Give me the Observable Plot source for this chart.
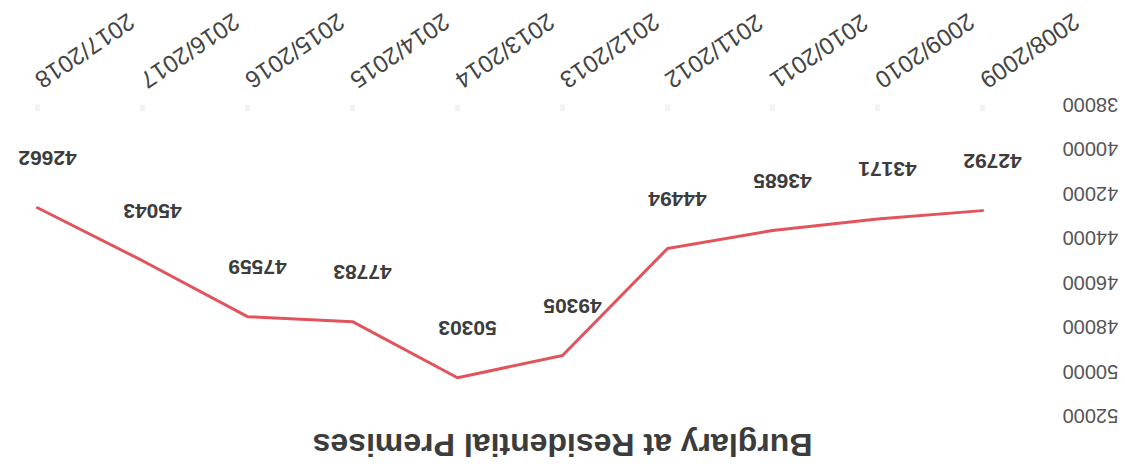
<!DOCTYPE html>
<html>
<head>
<meta charset="utf-8">
<script src="https://cdn.jsdelivr.net/npm/d3@7"></script>
<script src="https://cdn.jsdelivr.net/npm/@observablehq/plot@0.6"></script>
<style>
  html, body { margin: 0; padding: 0; background: #fff; }
  #chart {
    position: relative;
    width: 1125px;
    height: 468px;
    overflow: hidden;
    background: #fff;
    transform: rotate(180deg);
    transform-origin: 50% 50%;
  }
  #title {
    height: 48px;
    box-sizing: border-box;
    padding-top: 7px;
    width: 1125px;
    text-align: center;
    font: bold 32px "Liberation Sans", Arial, sans-serif;
    line-height: 1;
    color: #3c3c3c;
    white-space: nowrap;
  }
  #plot svg { display: block; overflow: visible; }
</style>
</head>
<body>
<div id="chart">
  <div id="title">Burglary at Residential Premises</div>
  <div id="plot"></div>
</div>
<script>
// Financial years, oldest first
const years = [
  "2008/2009", "2009/2010", "2010/2011", "2011/2012", "2012/2013",
  "2013/2014", "2014/2015", "2015/2016", "2016/2017", "2017/2018"
];
// Recorded burglaries at residential premises per year
const burglaries = [42792, 43171, 43685, 44494, 49305, 50303, 47783, 47559, 45043, 42662];
// Value-axis tick labels
const yTicks = [38000, 40000, 42000, 44000, 46000, 48000, 50000, 52000];

const rows = years.map((year, i) => ({year, value: burglaries[i]}));

const chart = Plot.plot({
  width: 1125,
  height: 420,
  marginLeft: 142,
  marginRight: 38,
  marginTop: 4,
  marginBottom: 104.5,
  style: {fontFamily: '"Liberation Sans", Arial, sans-serif', background: "#fff", overflow: "visible"},
  x: {type: "point", domain: years, padding: 0},
  y: {domain: [38000, 52000]},
  marks: [
    Plot.ruleX(rows, {x: "year", y1: 38000, y2: 38300, stroke: "#f3f3f3", strokeWidth: 5}),
    Plot.axisY({
      ticks: yTicks, tickSize: 0, tickPadding: 80, fontSize: 20,
      fill: "#555", tickFormat: d => String(d), label: null
    }),
    Plot.axisX({
      tickSize: 0, tickPadding: 22, tickRotate: -34, fontSize: 24,
      fill: "#444", label: null
    }),
    Plot.lineY(rows, {x: "year", y: "value", stroke: "#e2545c", strokeWidth: 3}),
    Plot.text(rows, {
      x: "year", y: "value", text: d => String(d.value),
      dx: -10, dy: 50, fontSize: 21, fontWeight: "bold", fill: "#3c3c3c"
    })
  ]
});

document.getElementById("plot").append(chart);
</script>
</body>
</html>
